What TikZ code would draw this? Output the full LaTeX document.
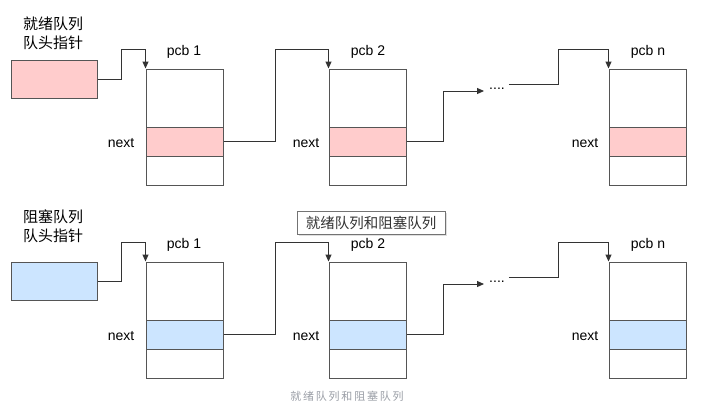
\documentclass[tikz,border=0pt]{standalone}
\usepackage{fontspec}
\setmainfont{Liberation Sans}
\newfontfamily\cjk{Noto Sans CJK SC}
\usetikzlibrary{arrows.meta,shadows}
\definecolor{bd}{HTML}{555555}
\definecolor{pinkf}{HTML}{FFCCCC}
\definecolor{bluef}{HTML}{CCE5FF}
\definecolor{capc}{HTML}{9A9EA6}
\tikzset{
  box/.style={draw=bd, line width=1pt, minimum width=77pt, minimum height=116pt, inner sep=0pt, fill=white},
  band/.style={draw=bd, line width=1pt, minimum width=77pt, minimum height=29pt, inner sep=0pt},
  ptrbox/.style={draw=bd, line width=1pt, minimum width=86pt, minimum height=38pt, inner sep=0pt},
  lbl/.style={font=\fontsize{14}{16}\selectfont, inner sep=0pt},
  cnlbl/.style={font=\cjk\fontsize{15}{19}\selectfont, align=left, inner sep=0pt},
  conn/.style={draw=black!80, line width=1pt},
  arr/.style={conn, -{Triangle[length=7pt,width=6pt]}},
}
\begin{document}
\begin{tikzpicture}[x=1pt,y=-1pt]
\useasboundingbox (0,0) rectangle (706,407);
\fill[white] (0,0) rectangle (706,407);

% ---------- top row (ready queue) ----------
\node[cnlbl] (rlab) at (53,33) {就绪队列\\队头指针};
\node[ptrbox, fill=pinkf] (rptr) at (54,79) {};
\node[box] (rp1) at (184.5,127) {};
\node[band, fill=pinkf] (rb1) at (184.5,141.5) {};
\node[box] (rp2) at (367.5,127) {};
\node[band, fill=pinkf] (rb2) at (367.5,141.5) {};
\node[box] (rpn) at (647.5,127) {};
\node[band, fill=pinkf] (rbn) at (647.5,141.5) {};
\node[lbl] (rt1) at (184,52) {pcb 1};
\node[lbl] (rt2) at (368,52) {pcb 2};
\node[lbl] (rtn) at (648,52) {pcb n};
\node[lbl] (rn1) at (121,143) {next};
\node[lbl] (rn2) at (306,143) {next};
\node[lbl] (rnn) at (585,143) {next};
\node[lbl, inner sep=2pt] (rdots) at (497,89) {....};

\draw[arr] (rptr.east) -- ++(24,0) |- ([yshift=19pt]rp1.north west) -- (rp1.north west);
\draw[arr] (rb1.east) -- ++(52,0) |- ([yshift=19pt]rp2.north west) -- (rp2.north west);
\draw[arr] (rb2.east) -- ++(37,0) |- ([yshift=-2pt,xshift=-3pt]rdots.west);
\draw[arr] ([yshift=5pt,xshift=2pt]rdots.east) -- ++(50,0) |- ([yshift=19pt]rpn.north west) -- (rpn.north west);

% ---------- bottom row (blocked queue) ----------
\node[cnlbl] (blab) at (53,226) {阻塞队列\\队头指针};
\node[ptrbox, fill=bluef] (bptr) at (54,281.5) {};
\node[box] (bp1) at (184.5,320) {};
\node[band, fill=bluef] (bb1) at (184.5,334.5) {};
\node[box] (bp2) at (367.5,320) {};
\node[band, fill=bluef] (bb2) at (367.5,334.5) {};
\node[box] (bpn) at (647.5,320) {};
\node[band, fill=bluef] (bbn) at (647.5,334.5) {};
\node[lbl] (bt1) at (184,245) {pcb 1};
\node[lbl] (bt2) at (368,245) {pcb 2};
\node[lbl] (btn) at (648,245) {pcb n};
\node[lbl] (bn1) at (121,336) {next};
\node[lbl] (bn2) at (306,336) {next};
\node[lbl] (bnn) at (585,336) {next};
\node[lbl, inner sep=2pt] (bdots) at (497,282) {....};

\draw[arr] (bptr.east) -- ++(24,0) |- ([yshift=19pt]bp1.north west) -- (bp1.north west);
\draw[arr] (bb1.east) -- ++(52,0) |- ([yshift=19pt]bp2.north west) -- (bp2.north west);
\draw[arr] (bb2.east) -- ++(37,0) |- ([yshift=-2pt,xshift=-3pt]bdots.west);
\draw[arr] ([yshift=5pt,xshift=2pt]bdots.east) -- ++(50,0) |- ([yshift=19pt]bpn.north west) -- (bpn.north west);

% ---------- tooltip ----------
\node[draw=black!55, fill=white, line width=0.8pt, drop shadow={shadow xshift=1.5pt, shadow yshift=-1.5pt, opacity=0.25},
      minimum width=148pt, minimum height=23pt, inner sep=0pt,
      font=\cjk\fontsize{14.5}{16}\selectfont, text=black!80] (tip) at (371,222.5) {就绪队列和阻塞队列};

% ---------- caption ----------
\node[font=\cjk\fontsize{11}{13}\selectfont, text=capc, inner sep=0pt] (cap) at (347,396)
  {就\hspace{1.8pt}绪\hspace{1.8pt}队\hspace{1.8pt}列\hspace{1.8pt}和\hspace{1.8pt}阻\hspace{1.8pt}塞\hspace{1.8pt}队\hspace{1.8pt}列};
\end{tikzpicture}
\end{document}
